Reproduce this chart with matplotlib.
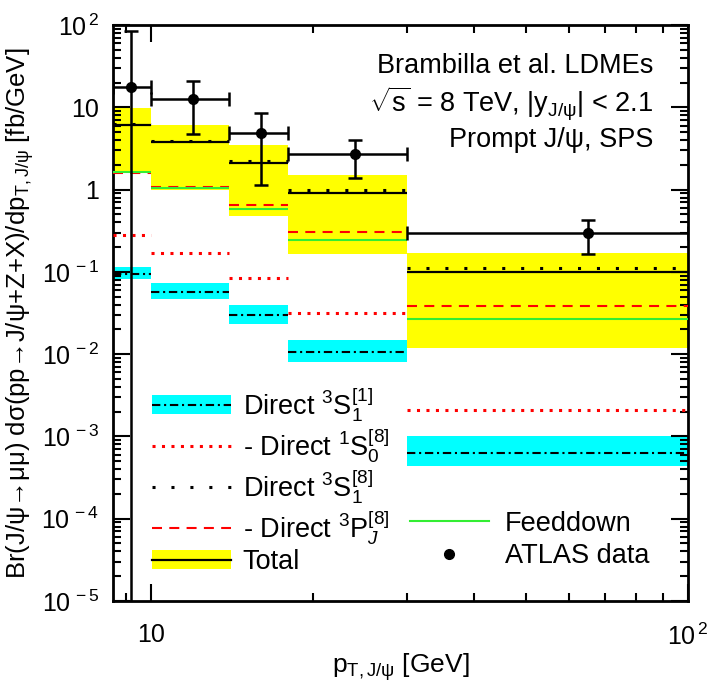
import numpy as np
import matplotlib
matplotlib.use('Agg')
import matplotlib.pyplot as plt
from matplotlib.lines import Line2D
from matplotlib.patches import Patch
from matplotlib.ticker import FixedLocator, FuncFormatter, NullFormatter

plt.rcParams['font.family'] = ['Liberation Sans', 'DejaVu Sans']
plt.rcParams['mathtext.fontset'] = 'custom'
plt.rcParams['mathtext.rm'] = 'Liberation Sans'
plt.rcParams['mathtext.it'] = 'Liberation Sans:italic'
plt.rcParams['mathtext.bf'] = 'Liberation Sans:bold'

# pT bins [GeV]
edges = [8.5, 10, 14, 18, 30, 100]

# Total with uncertainty band
total = [6.1, 3.82, 2.12, 0.90, 0.099]
total_hi = [9.7, 6.1, 3.48, 1.50, 0.168]
total_lo = [1.58, 0.99, 0.482, 0.164, 0.0118]

# Direct 3S1[1] with band
singlet = [0.095, 0.0575, 0.0299, 0.0107, 0.00063]
singlet_hi = [0.114, 0.074, 0.0396, 0.0149, 0.00100]
singlet_lo = [0.081, 0.0469, 0.0233, 0.0081, 0.00044]

# octet pieces and feeddown
s0_octet = [0.279, 0.170, 0.085, 0.0314, 0.0021]
s1_octet = [6.2, 3.93, 2.24, 1.0, 0.1125]
pj_octet = [1.6, 1.08, 0.65, 0.308, 0.0386]
feeddown = [1.62, 1.04, 0.58, 0.245, 0.027]

# ATLAS data
atlas_x = [9.2, 12, 16, 24, 65]
atlas_y = [17.5, 12.6, 4.91, 2.71, 0.294]
atlas_up = [84.5, 20.9, 8.6, 4.0, 0.428]
atlas_dn = [1e-7, 4.74, 1.15, 1.38, 0.165]

# axis ticks
y_major = [1e-5, 1e-4, 1e-3, 1e-2, 1e-1, 1, 10, 100]
x_major = [10, 100]
x_minor = [9, 20, 30, 40, 50, 60, 70, 80, 90]

lo_e = np.array(edges[:-1])
hi_e = np.array(edges[1:])

fig = plt.figure(figsize=(7.21, 6.89), dpi=100)
ax = fig.add_axes([113 / 721, 1 - 601 / 689, 575 / 721, 576 / 689])
ax.set_xscale('log')
ax.set_yscale('log')
ax.set_xlim(8.5, 100)
ax.set_ylim(1e-5, 1e2)

green = '#33ee33'

# bands
ax.stairs(total_hi, edges, baseline=total_lo, fill=True, color='#ffff00', lw=0, zorder=1)
ax.stairs(singlet_hi, edges, baseline=singlet_lo, fill=True, color='#00ffff', lw=0, zorder=1)

ls_dashdot = (0, (4, 1.8, 1, 1.8))
ls_reddot = (0, (1, 2.1))
ls_blackdot = (0, (1, 5.2))
ls_dash = (0, (4.8, 3.5))

ax.hlines(total, lo_e, hi_e, color='k', lw=1.6, zorder=3)
ax.hlines(singlet, lo_e, hi_e, color='k', lw=1.5, linestyles=[ls_dashdot], zorder=3)
ax.hlines(s0_octet, lo_e, hi_e, color='red', lw=2.2, linestyles=[ls_reddot], zorder=3)
ax.hlines(s1_octet, lo_e, hi_e, color='k', lw=2.2, linestyles=[ls_blackdot], zorder=3)
ax.hlines(pj_octet, lo_e, hi_e, color='red', lw=1.5, linestyles=[ls_dash], zorder=3)
ax.hlines(feeddown, lo_e, hi_e, color=green, lw=1.5, zorder=3)

# data
ax_x = np.array(atlas_x)
ax_y = np.array(atlas_y)
xerr = [ax_x - lo_e, hi_e - ax_x]
yerr = [ax_y - np.array(atlas_dn), np.array(atlas_up) - ax_y]
ax.errorbar(ax_x, ax_y, xerr=xerr, yerr=yerr, fmt='o', color='k', ms=7,
            lw=1.8, capsize=5, capthick=1.8, zorder=5)

# ticks
def fmt_pow(v, pos):
    e = int(round(np.log10(v)))
    if e == 0:
        return '1'
    if e == 1:
        return '10'
    return r'10$^{\,%d}$' % e

y_minor = [m * d for d in y_major[:-1] for m in range(2, 10)]
ax.yaxis.set_major_locator(FixedLocator(y_major))
ax.yaxis.set_minor_locator(FixedLocator(y_minor))
ax.yaxis.set_major_formatter(FuncFormatter(fmt_pow))
ax.yaxis.set_minor_formatter(NullFormatter())
ax.xaxis.set_major_locator(FixedLocator(x_major))
ax.xaxis.set_minor_locator(FixedLocator(x_minor))
ax.xaxis.set_major_formatter(FuncFormatter(fmt_pow))
ax.xaxis.set_minor_formatter(NullFormatter())
ax.tick_params(which='both', direction='in', top=True, right=True, width=1.5, labelsize=18)
ax.tick_params(which='major', length=12, pad=10)
ax.tick_params(axis='x', which='major', pad=16)
ax.tick_params(which='minor', length=6)
for s in ax.spines.values():
    s.set_linewidth(2)

ax.set_xlabel(r'p$_{\mathregular{T,J/ψ}}$ [GeV]', fontsize=19, labelpad=1)
ax.set_ylabel(r'Br(J/ψ→μμ) dσ(pp→J/ψ+Z+X)/dp$_{\mathregular{T,J/ψ}}$ [fb/GeV]',
              fontsize=18.5, labelpad=4)

# annotations
ax.text(0.94, 0.929, 'Brambilla et al. LDMEs', transform=ax.transAxes,
        ha='right', va='center', fontsize=19.5)
ax.text(0.94, 0.865, r'$\sqrt{\mathregular{s}}$ = 8 TeV, |y$_{\mathregular{J/ψ}}$| < 2.1',
        transform=ax.transAxes, ha='right', va='center', fontsize=19.5)
ax.text(0.94, 0.80, 'Prompt J/ψ, SPS', transform=ax.transAxes,
        ha='right', va='center', fontsize=19.5)

# legend, left column
handles1 = [
    (Patch(fc='#00ffff', ec='none'), Line2D([], [], color='k', lw=1.5, ls=ls_dashdot)),
    Line2D([], [], color='red', lw=2.2, ls=ls_reddot),
    Line2D([], [], color='k', lw=2.2, ls=ls_blackdot),
    Line2D([], [], color='red', lw=1.5, ls=ls_dash),
    (Patch(fc='#ffff00', ec='none'), Line2D([], [], color='k', lw=1.6)),
]
labels1 = [
    r'Direct $^{3}\mathregular{S}_{1}^{[1]}$',
    r'- Direct $^{1}\mathregular{S}_{0}^{[8]}$',
    r'Direct $^{3}\mathregular{S}_{1}^{[8]}$',
    r'- Direct $^{3}\mathregular{P}_{J}^{[8]}$',
    'Total',
]
leg1 = ax.legend(handles1, labels1, loc='upper left', bbox_to_anchor=(0.068, 0.375),
                 frameon=False, fontsize=19.5, handlelength=2.9, handletextpad=0.45,
                 labelspacing=0.08, borderpad=0, borderaxespad=0)
ax.add_artist(leg1)

# legend, right column
handles2 = [
    Line2D([], [], color=green, lw=1.5),
    Line2D([], [], color='k', marker='o', ms=7, ls='none'),
]
labels2 = ['Feeddown', 'ATLAS data']
ax.legend(handles2, labels2, loc='upper left', bbox_to_anchor=(0.5165, 0.157),
          frameon=False, fontsize=19.5, handlelength=2.9, handletextpad=0.6,
          labelspacing=0.25, borderpad=0, borderaxespad=0)

fig.savefig('out.png', dpi=100)
